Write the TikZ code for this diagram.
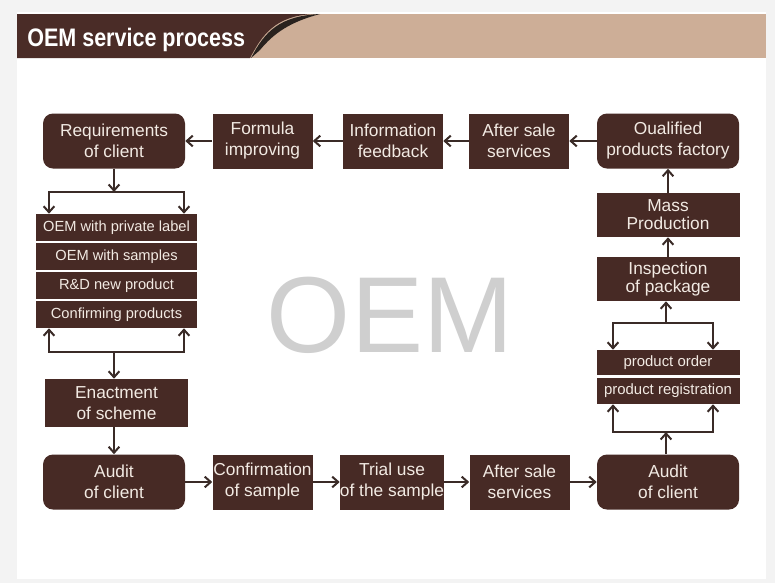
\documentclass[tikz,border=0pt]{standalone}
\usepackage{fontspec}
\setmainfont{Liberation Sans}
\usetikzlibrary{arrows.meta}
\definecolor{boxBrown}{HTML}{472A25}
\definecolor{headBrown}{HTML}{4A2C27}
\definecolor{headTan}{HTML}{CDAE97}
\definecolor{arrowBrown}{HTML}{3A2B27}
\definecolor{boxText}{HTML}{F2EAE3}
\definecolor{markGray}{HTML}{CFCFCF}
\definecolor{pageGray}{HTML}{F3F3F3}

\begin{document}
\begin{tikzpicture}[x=0.75pt, y=-0.75pt,
    stepbox/.style={fill=boxBrown, text=boxText, align=center, inner sep=0pt,
        minimum width=75pt, minimum height=41.25pt,
        font=\fontsize{13}{15.75}\selectfont},
    endbox/.style={stepbox, rounded corners=7.5pt, minimum width=106.5pt},
    tallbox/.style={stepbox, minimum width=107.25pt, minimum height=33pt,
        font=\fontsize{13}{13.5}\selectfont},
    listbox/.style={fill=boxBrown, text=boxText, inner sep=0pt,
        minimum width=120.75pt, minimum height=20.25pt,
        font=\fontsize{11}{12}\selectfont},
    arr/.style={draw=arrowBrown, line width=1.5pt,
        -{Straight Barb[length=4.5pt,width=8pt]}}]
    \useasboundingbox (0,0) rectangle (775,583);
    \fill[pageGray] (0,0) rectangle (775,583);
    \fill[white] (17,12) rectangle (766,579);

    % header bar
    \fill[headTan] (17,14) rectangle (766,58);
    \fill[black, opacity=.8] (251,58) .. controls (265,31) and (280,16) .. (320,14)
        .. controls (290,22) and (274,33) .. (260,50) -- cycle;
    \fill[headBrown] (17,14) -- (313,14) .. controls (275,16) and (262,35) .. (250,58)
        -- (17,58) -- cycle;
    \node[anchor=base west, text=white, inner sep=0pt,
        font=\fontsize{19}{19}\selectfont\bfseries] (title) at (27,46)
        {\scalebox{0.85}[1]{OEM service process}};

    % watermark
    \node[anchor=base, text=markGray, inner sep=0pt,
        font=\fontsize{81}{81}\selectfont] (watermark) at (390,352) {OEM};

    % top row
    \node[endbox] (req) at (114,141) {Requirements\\of client};
    \node[stepbox] (formula) at (262.5,141) {Formula\\improving};
    \node[stepbox] (info) at (393,141) {Information\\feedback};
    \node[stepbox] (afterTop) at (519,141) {After sale\\services};
    \node[endbox] (qualified) at (668,141) {Oualified\\products factory};

    % left column
    \node[listbox] (private) at (116.5,227.5) {OEM with private label};
    \node[listbox] (samples) at (116.5,256.5) {OEM with samples};
    \node[listbox] (rnd) at (116.5,285.5) {R\&D new product};
    \node[listbox] (confirming) at (116.5,314.5) {Confirming products};
    \node[tallbox, minimum height=36pt, font=\fontsize{13}{15.75}\selectfont]
        (enact) at (116.5,403) {Enactment\\of scheme};

    % bottom row
    \node[endbox] (auditL) at (114,482) {Audit\\of client};
    \node[stepbox] (confirm) at (262.5,482) {Confirmation\\of sample};
    \node[stepbox] (trial) at (392,482) {Trial use\\of the sample};
    \node[stepbox] (afterBot) at (519.5,482) {After sale\\services};
    \node[endbox] (auditR) at (668,482) {Audit\\of client};

    % right column
    \node[tallbox] (mass) at (668,215) {Mass\\Production};
    \node[tallbox] (inspect) at (668,279) {Inspection\\of package};
    \node[listbox, minimum width=107.25pt, minimum height=18.75pt,
        font=\fontsize{11.2}{12}\selectfont] (order) at (668,362.5) {product order};
    \node[listbox, minimum width=107.25pt, minimum height=19.5pt,
        font=\fontsize{11.2}{12}\selectfont] (register) at (668,391) {product registration};

    % junctions
    \coordinate (splitLeft) at (114,192);
    \coordinate (splitLeftA) at (49,192);
    \coordinate (splitLeftB) at (184,192);
    \coordinate (joinLeft) at (114,352);
    \coordinate (joinLeftA) at (49,352);
    \coordinate (joinLeftB) at (184,352);
    \coordinate (splitRight) at (666,323);
    \coordinate (splitRightA) at (613,323);
    \coordinate (splitRightB) at (713,323);
    \coordinate (joinRight) at (666,432);
    \coordinate (joinRightA) at (613,432);
    \coordinate (joinRightB) at (713,432);

    % connectors
    \draw[arr] (qualified) -- (afterTop);
    \draw[arr] (afterTop) -- (info);
    \draw[arr] (info) -- (formula);
    \draw[arr] (formula) -- (req);
    \draw[arr] (req.south -| splitLeft) -- (splitLeft);
    \draw[arr] (splitLeft) -| (splitLeftA |- private.north);
    \draw[arr] (splitLeft) -| (splitLeftB |- private.north);
    \draw[arr] (joinLeft) -| (joinLeftA |- confirming.south);
    \draw[arr] (joinLeft) -| (joinLeftB |- confirming.south);
    \draw[arr] (joinLeft) -- (joinLeft |- enact.north);
    \draw[arr] (enact.south -| auditL.north) -- (auditL.north);
    \draw[arr] (auditL) -- (confirm);
    \draw[arr] (confirm) -- (trial);
    \draw[arr] (trial) -- (afterBot);
    \draw[arr] (afterBot) -- (auditR);
    \draw[arr] (auditR.north -| joinRight) -- (joinRight);
    \draw[arr] (joinRight) -| (joinRightA |- register.south);
    \draw[arr] (joinRight) -| (joinRightB |- register.south);
    \draw[arr] (splitRight) -| (splitRightA |- order.north);
    \draw[arr] (splitRight) -| (splitRightB |- order.north);
    \draw[arr] (splitRight) -- (splitRight |- inspect.south);
    \draw[arr] (inspect) -- (mass);
    \draw[arr] (mass) -- (qualified);
\end{tikzpicture}
\end{document}
